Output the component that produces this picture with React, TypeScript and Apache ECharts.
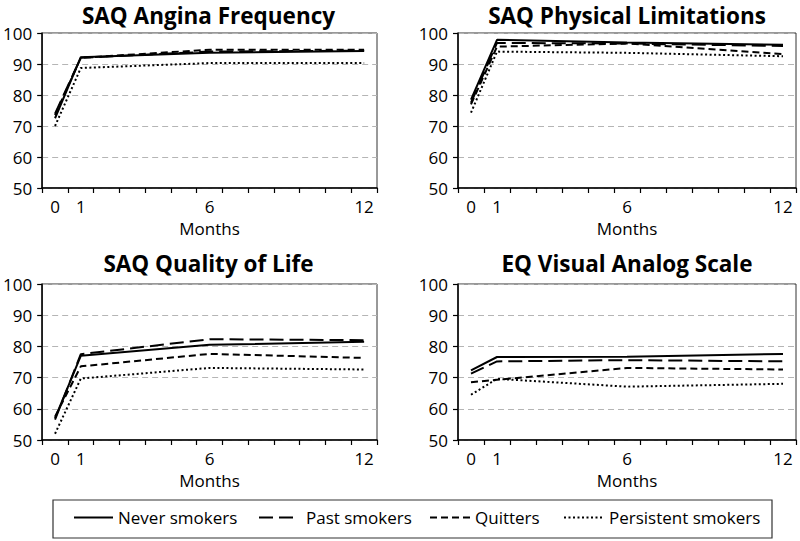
import React, { useEffect, useRef } from "react";
import * as echarts from "echarts";

const MONTHS = ["0", "1", "2", "3", "4", "5", "6", "7", "8", "9", "10", "11", "12"];
const MEASURED_MONTHS = ["0", "1", "6", "12"];
const LABELED_MONTHS = ["0", "1", "6", "12"];
const Y_TICKS = [50, 60, 70, 80, 90, 100];

const SERIES_NAMES = ["Never smokers", "Past smokers", "Quitters", "Persistent smokers"];
const PANEL_TITLES = ["SAQ Angina Frequency", "SAQ Physical Limitations", "SAQ Quality of Life", "EQ Visual Analog Scale"];

// SAQ Angina Frequency
const afNever = [72.5, 92.2, 93.6, 94.2];
const afPast = [74.0, 92.0, 94.0, 94.3];
const afQuit = [73.5, 92.0, 94.6, 94.6];
const afPersist = [70.0, 88.7, 90.3, 90.3];

// SAQ Physical Limitations
const plNever = [78.5, 97.8, 96.9, 96.2];
const plPast = [77.5, 96.8, 96.6, 95.8];
const plQuit = [77.0, 95.6, 96.6, 93.2];
const plPersist = [74.3, 94.0, 93.6, 92.5];

// SAQ Quality of Life
const qlNever = [57.0, 77.0, 80.5, 81.5];
const qlPast = [56.5, 77.5, 82.3, 82.0];
const qlQuit = [57.5, 73.6, 77.6, 76.3];
const qlPersist = [52.0, 69.7, 73.1, 72.6];

// EQ Visual Analog Scale
const vasNever = [72.3, 76.6, 76.7, 77.6];
const vasPast = [71.3, 75.2, 75.6, 75.2];
const vasQuit = [68.5, 69.3, 73.1, 72.6];
const vasPersist = [64.5, 69.6, 67.1, 68.0];

const PANELS = [
  [afNever, afPast, afQuit, afPersist],
  [plNever, plPast, plQuit, plPersist],
  [qlNever, qlPast, qlQuit, qlPersist],
  [vasNever, vasPast, vasQuit, vasPersist],
];

const LINE_TYPES: any[] = ["solid", [14, 6], [7, 4], [2, 2.5]];
const FONT = "Open Sans";

function placeOnMonths(vals: number[]) {
  return MONTHS.map((m) => {
    const i = MEASURED_MONTHS.indexOf(m);
    return i >= 0 ? vals[i] : null;
  });
}

export default function App() {
  const ref = useRef<HTMLDivElement>(null);
  useEffect(() => {
    if (!ref.current) return;
    const chart = echarts.init(ref.current, undefined, { renderer: "svg" });

    const grids = [
      { left: 40, top: 33, width: 337, height: 155 },
      { left: 458, top: 33, width: 338, height: 155 },
      { left: 40, top: 284, width: 337, height: 156 },
      { left: 458, top: 284, width: 338, height: 156 },
    ].map((g) => ({ ...g, show: true, borderColor: "#333", borderWidth: 1, backgroundColor: "transparent" }));

    const titles = PANEL_TITLES.map((t, i) => ({
      text: t,
      left: grids[i].left + grids[i].width / 2,
      textAlign: "center",
      top: i < 2 ? 4 : 252,
      padding: 0,
      textStyle: { fontFamily: FONT, fontWeight: "bold", fontSize: 22.5, lineHeight: 23, color: "#000" },
    }));

    const xAxes = grids.map((_, i) => ({
      type: "category",
      gridIndex: i,
      data: MONTHS,
      boundaryGap: true,
      name: "Months",
      nameLocation: "middle",
      nameGap: 32,
      nameTextStyle: { fontFamily: FONT, fontSize: 17, color: "#000" },
      axisLine: { lineStyle: { color: "#000", width: 1.5 } },
      axisTick: { show: true, interval: 0, length: 5, lineStyle: { color: "#000", width: 1.2 } },
      axisLabel: {
        interval: (_idx: number, val: string) => LABELED_MONTHS.includes(val),
        fontFamily: FONT,
        fontSize: 17,
        color: "#000",
        margin: 10,
      },
      splitLine: { show: false },
    }));

    const yAxes = grids.map((_, i) => ({
      type: "value",
      gridIndex: i,
      min: Y_TICKS[0],
      max: Y_TICKS[Y_TICKS.length - 1],
      interval: 10,
      axisLine: { show: true, lineStyle: { color: "#000", width: 1.5 } },
      axisTick: { show: true, length: 5, lineStyle: { color: "#000", width: 1.2 } },
      axisLabel: { fontFamily: FONT, fontSize: 17, color: "#000", margin: 10 },
      splitLine: { show: true, lineStyle: { color: "#b5b5b5", type: [6, 4], width: 1 } },
    }));

    const series: any[] = [];
    PANELS.forEach((panel, pi) => {
      panel.forEach((vals, si) => {
        series.push({
          type: "line",
          name: SERIES_NAMES[si],
          xAxisIndex: pi,
          yAxisIndex: pi,
          data: placeOnMonths(vals),
          connectNulls: true,
          symbol: "none",
          lineStyle: { color: "#000", width: 2, type: LINE_TYPES[si] },
          itemStyle: { color: "#000" },
          z: 10 - si,
        });
      });
    });

    const legendPos = [
      { left: 73, width: 39, gap: 0 },
      { left: 258, width: 35, gap: 7 },
      { left: 429, width: 40, gap: 0 },
      { left: 563, width: 40, gap: 0 },
    ];
    const legends = SERIES_NAMES.map((n, i) => ({
      data: [n],
      left: legendPos[i].left,
      top: 509,
      padding: 0,
      itemWidth: legendPos[i].width,
      itemHeight: 14,
      selectedMode: false,
      itemStyle: { color: "transparent", opacity: 0, borderWidth: 0 },
      textStyle: {
        fontFamily: FONT,
        fontSize: 17,
        color: "#000",
        padding: [0, 0, 0, legendPos[i].gap],
      },
    }));

    chart.setOption({
      animation: false,
      backgroundColor: "#fff",
      textStyle: { fontFamily: FONT },
      title: titles,
      grid: grids,
      xAxis: xAxes,
      yAxis: yAxes,
      legend: legends,
      series,
      graphic: [
        {
          type: "rect",
          shape: { x: 53, y: 500, width: 719, height: 38 },
          style: { fill: "none", stroke: "#333", lineWidth: 1.2 },
          silent: true,
        },
      ],
    });
    return () => chart.dispose();
  }, []);
  return <div ref={ref} style={{ position: "fixed", left: 0, top: 0, width: 800, height: 541 }} />;
}
